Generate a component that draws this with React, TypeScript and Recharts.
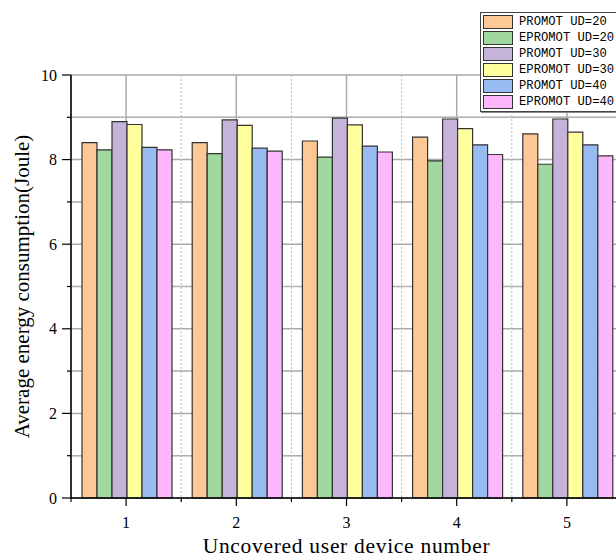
import React from 'react'
import { BarChart, Bar, XAxis, YAxis, CartesianGrid } from 'recharts'

// values
const devices = ['1', '2', '3', '4', '5']
const promot20 = [8.40, 8.40, 8.44, 8.53, 8.61]
const epromot20 = [8.23, 8.14, 8.06, 7.97, 7.89]
const promot30 = [8.90, 8.94, 8.98, 8.96, 8.96]
const epromot30 = [8.83, 8.81, 8.82, 8.73, 8.65]
const promot40 = [8.29, 8.27, 8.32, 8.35, 8.35]
const epromot40 = [8.23, 8.20, 8.18, 8.12, 8.09]
const yTicks = [0, 1, 2, 3, 4, 5, 6, 7, 8, 9, 10]

const seriesNames = ['PROMOT UD=20', 'EPROMOT UD=20', 'PROMOT UD=30', 'EPROMOT UD=30', 'PROMOT UD=40', 'EPROMOT UD=40']
const seriesValues = [promot20, epromot20, promot30, epromot30, promot40, epromot40]
const colors = ['#FDC896', '#A0D8A0', '#C5B3D9', '#FFFF9E', '#98BBF2', '#FDB7FC']

const data = devices.map((d, i) => {
  const row: any = { n: d }
  seriesNames.forEach((s, k) => { row[s] = seriesValues[k][i] })
  return row
})

const W = 660
const H = 559
const margin = { top: 75, right: 38, bottom: 31, left: 11 }
const yAxisW = 60
const xAxisH = 30
const plotLeft = margin.left + yAxisW
const plotBottom = H - margin.bottom - xAxisH
const plotW = W - margin.left - margin.right - yAxisW
const band = plotW / devices.length

const serif = '"Liberation Serif", "Times New Roman", serif'

const YTick = (props: any) => {
  const { y, payload } = props
  const major = payload.value % 2 === 0
  return (
    <g>
      <line x1={plotLeft - (major ? 9 : 4)} x2={plotLeft} y1={y} y2={y} stroke="#000" strokeWidth={1.2} />
      {major && (
        <text x={plotLeft - 14} y={y} dy={5.5} textAnchor="end" fontFamily={serif} fontSize={16} fill="#000">
          {payload.value}
        </text>
      )}
    </g>
  )
}

const XTick = (props: any) => {
  const { x, payload, index } = props
  const last = index === devices.length - 1
  return (
    <g>
      <line x1={x} x2={x} y1={plotBottom} y2={plotBottom + 8} stroke="#000" strokeWidth={1.2} />
      <line x1={x - band / 2} x2={x - band / 2} y1={plotBottom} y2={plotBottom + 4} stroke="#000" strokeWidth={1.2} />
      {last && <line x1={x + band / 2} x2={x + band / 2} y1={plotBottom} y2={plotBottom + 4} stroke="#000" strokeWidth={1.2} />}
      <text x={x} y={plotBottom + 30} textAnchor="middle" fontFamily={serif} fontSize={16} fill="#000">
        {payload.value}
      </text>
    </g>
  )
}

const XTitle = ({ viewBox }: any) => (
  <text x={viewBox.x + viewBox.width / 2} y={plotBottom + 55} textAnchor="middle"
    fontFamily={serif} fontSize={21.5} letterSpacing={0.7} fill="#000">
    Uncovered user device number
  </text>
)

const YTitle = ({ viewBox }: any) => {
  const cx = 22
  const cy = viewBox.y + viewBox.height / 2
  return (
    <text x={cx} y={cy} transform={`rotate(-90 ${cx} ${cy})`} textAnchor="middle" dominantBaseline="central"
      fontFamily={serif} fontSize={21} fill="#000">
      Average energy consumption(Joule)
    </text>
  )
}

const LegendBox = () => (
  <div style={{
    position: 'absolute', left: 480, top: 12, width: 170,
    border: '1.5px solid #444', background: '#fff', padding: '1px 0 1px 2px',
    boxShadow: '1px 1px 0 #888',
  }}>
    {seriesNames.map((s, k) => (
      <div key={s} style={{ display: 'flex', alignItems: 'center', height: 16 }}>
        <div style={{ width: 28, height: 12, background: colors[k], border: '1px solid #333', marginRight: 6 }} />
        <span style={{ fontFamily: '"Liberation Mono", "DejaVu Sans Mono", monospace', fontSize: 12.2, color: '#000', whiteSpace: 'nowrap' }}>{s}</span>
      </div>
    ))}
  </div>
)

export default function App() {
  return (
    <div style={{ position: 'absolute', left: 0, top: 0, width: 616, height: 559, overflow: 'hidden', background: '#fff' }}>
      <BarChart width={W} height={H} data={data} margin={margin} barGap={0} barCategoryGap={11}>
        {/* solid grid at category centres and even values */}
        <CartesianGrid stroke="#aaa" strokeWidth={1.5} />
        {/* dotted grid at category boundaries and odd values */}
        <CartesianGrid
          stroke="#bbb"
          strokeDasharray="2 2"
          verticalCoordinatesGenerator={({ offset }: any) =>
            devices.map((_, i) => offset.left + i * (offset.width / devices.length)).slice(1)}
          horizontalCoordinatesGenerator={({ offset }: any) =>
            yTicks.filter(t => t % 2 === 1).map(t => offset.top + offset.height * (1 - t / 10))}
        />
        <XAxis
          dataKey="n"
          height={xAxisH}
          tickLine={false}
          axisLine={{ stroke: '#000', strokeWidth: 1.5 }}
          tick={<XTick />}
          interval={0}
          label={<XTitle />}
        />
        <YAxis
          width={yAxisW}
          domain={[0, 10]}
          ticks={yTicks}
          interval={0}
          tickLine={false}
          axisLine={{ stroke: '#000', strokeWidth: 1.5 }}
          tick={<YTick />}
          label={<YTitle />}
        />
        {seriesNames.map((s, k) => (
          <Bar key={s} dataKey={s} fill={colors[k]} stroke="#333" strokeWidth={1.2} isAnimationActive={false} />
        ))}
      </BarChart>
      <LegendBox />
    </div>
  )
}
